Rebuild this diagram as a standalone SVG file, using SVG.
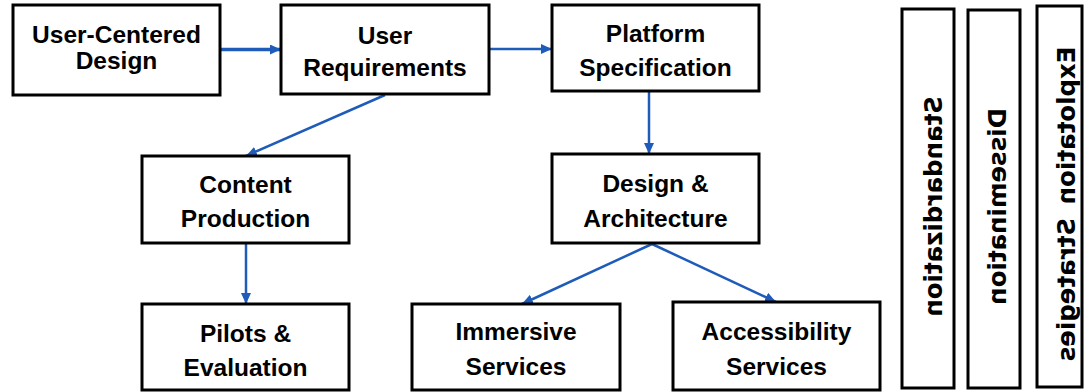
<svg xmlns="http://www.w3.org/2000/svg" width="1084" height="392" viewBox="0 0 1084 392">
<defs>
<style>
.box{fill:#fff;stroke:#000;stroke-width:3}
.lbl{font-family:"Liberation Sans",Arial,sans-serif;font-weight:bold;font-size:24.5px;text-anchor:middle;fill:#000}
.vlbl{font-family:"DejaVu Sans",Verdana,sans-serif;font-weight:bold;font-size:24.5px;text-anchor:middle;fill:#000}
.conn{stroke:#1f5cba;stroke-width:2.5;fill:none;marker-end:url(#ah)}
.thick{stroke-width:3.5}
</style>
<marker id="ah" markerUnits="userSpaceOnUse" markerWidth="12" markerHeight="12" refX="11" refY="5" orient="auto">
<path d="M0,0 L11,5 L0,10 z" fill="#1f5cba"/>
</marker>
</defs>
<rect width="1084" height="392" fill="#fff"/>
<g id="connectors">
<line class="conn thick" x1="221" y1="49.5" x2="281" y2="49.5"/>
<line class="conn" x1="489" y1="49" x2="552" y2="49"/>
<line class="conn" x1="385" y1="95" x2="246" y2="156"/>
<line class="conn" x1="649" y1="92" x2="649" y2="154"/>
<line class="conn" x1="246" y1="244" x2="246" y2="304"/>
<line class="conn" x1="652" y1="244" x2="522" y2="304"/>
<line class="conn" x1="652" y1="244" x2="776" y2="302"/>
</g>
<g id="user-centered-design">
<rect class="box" x="13" y="5" width="207" height="90"/>
<text class="lbl" x="116.5" y="43">User-Centered</text>
<text class="lbl" x="116.5" y="69">Design</text>
</g>
<g id="user-requirements">
<rect class="box" x="281" y="5" width="208" height="89"/>
<text class="lbl" x="385" y="44">User</text>
<text class="lbl" x="385" y="76">Requirements</text>
</g>
<g id="platform-specification">
<rect class="box" x="552" y="5" width="207" height="86"/>
<text class="lbl" x="655.5" y="42">Platform</text>
<text class="lbl" x="655.5" y="76">Specification</text>
</g>
<g id="content-production">
<rect class="box" x="142" y="156" width="207" height="87"/>
<text class="lbl" x="245.5" y="193">Content</text>
<text class="lbl" x="245.5" y="227">Production</text>
</g>
<g id="design-architecture">
<rect class="box" x="552" y="154" width="207" height="89"/>
<text class="lbl" x="655.5" y="192">Design &amp;</text>
<text class="lbl" x="655.5" y="227">Architecture</text>
</g>
<g id="pilots-evaluation">
<rect class="box" x="142" y="304" width="207" height="86"/>
<text class="lbl" x="245.5" y="342">Pilots &amp;</text>
<text class="lbl" x="245.5" y="376">Evaluation</text>
</g>
<g id="immersive-services">
<rect class="box" x="412" y="304" width="208" height="86"/>
<text class="lbl" x="516" y="340">Immersive</text>
<text class="lbl" x="516" y="375">Services</text>
</g>
<g id="accessibility-services">
<rect class="box" x="673" y="302" width="207" height="88"/>
<text class="lbl" x="776.5" y="340">Accessibility</text>
<text class="lbl" x="776.5" y="375">Services</text>
</g>
<g id="standardization">
<rect class="box" x="902" y="9" width="52" height="379"/>
<text class="vlbl" transform="matrix(0,1,1,0,942,206.5)">Standardization</text>
</g>
<g id="dissemination">
<rect class="box" x="968" y="10" width="52" height="378"/>
<text class="vlbl" transform="matrix(0,1,1,0,1006,206.5)">Dissemination</text>
</g>
<g id="exploitation-strategies">
<rect class="box" x="1037" y="6" width="45" height="381"/>
<text class="vlbl" transform="matrix(0,1,1,0,1075,204)" word-spacing="5">Explotation Strategies</text>
</g>
</svg>
